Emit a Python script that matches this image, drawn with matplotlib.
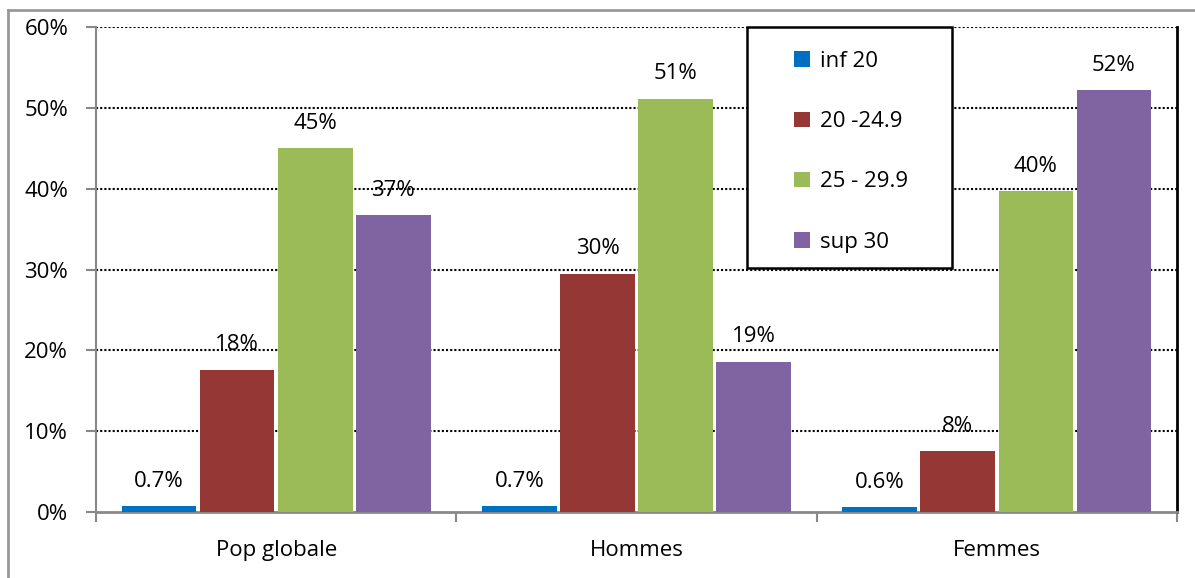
import numpy as np
import matplotlib.pyplot as plt
from matplotlib.lines import Line2D
from matplotlib.patches import Rectangle

plt.rcParams['font.family'] = ['Open Sans', 'DejaVu Sans']

groups = ['Pop globale', 'Hommes', 'Femmes']
series = ['inf 20', '20 -24.9', '25 - 29.9', 'sup 30']
values = {
    'inf 20':    [0.7, 0.7, 0.6],
    '20 -24.9':  [17.6, 29.5, 7.5],
    '25 - 29.9': [45.0, 51.1, 39.7],
    'sup 30':    [36.7, 18.6, 52.2],
}
labels = {
    'inf 20':    ['0.7%', '0.7%', '0.6%'],
    '20 -24.9':  ['18%', '30%', '8%'],
    '25 - 29.9': ['45%', '51%', '40%'],
    'sup 30':    ['37%', '19%', '52%'],
}
colors = ['#0070C0', '#953735', '#9BBB59', '#8064A2']
yticks = [0, 10, 20, 30, 40, 50, 60]
fs = 16

fig = plt.figure(figsize=(11.95, 5.78), dpi=100)
ax = fig.add_axes([96 / 1195, 66 / 578, 1081 / 1195, 485 / 578])

x = np.arange(len(groups))
step = 0.2167
width = 0.207
for i, name in enumerate(series):
    pos = x + (i - 1.5) * step
    bars = ax.bar(pos, values[name], width, color=colors[i], label=name, zorder=3)
    for b, txt in zip(bars, labels[name]):
        ax.annotate(txt, (b.get_x() + b.get_width() / 2, b.get_height()),
                    xytext=(0, 14), textcoords='offset points',
                    ha='center', va='baseline', fontsize=fs, zorder=4)

ax.set_xlim(-0.5, 2.5)
ax.set_ylim(0, 60)
ax.set_yticks(yticks)
ax.set_yticklabels([f'{t}%' for t in yticks], fontsize=fs)
ax.set_xticks([-0.5, 0.5, 1.5, 2.5])
ax.set_xticklabels([])
ax.set_xticks(x, minor=True)
ax.set_xticklabels(groups, minor=True, fontsize=fs)
ax.tick_params(axis='x', which='minor', length=0, pad=20)
ax.tick_params(axis='x', which='major', length=7, color='#888888', width=1.5)
ax.tick_params(axis='y', length=7, color='#888888', width=1.5, pad=13)

for t in yticks[1:]:
    ax.axhline(t, color='black', lw=1.5, ls=(0, (1, 1)), zorder=1)

ax.spines['top'].set_visible(False)
ax.spines['left'].set_color('#888888')
ax.spines['left'].set_linewidth(1.5)
ax.spines['bottom'].set_color('#888888')
ax.spines['bottom'].set_linewidth(2)
ax.spines['right'].set_color('black')
ax.spines['right'].set_linewidth(2)

# legend box drawn separately so its padding can be wider than tall
box = Rectangle((0.6022, 0.503), 0.1896, 0.497, transform=ax.transAxes,
                facecolor='white', edgecolor='black', lw=1.8, zorder=5, clip_on=False)
ax.add_patch(box)
leg = ax.legend(loc='upper left', bbox_to_anchor=(0.6457, 0.951), fontsize=fs,
                frameon=False, handlelength=0.7, handleheight=0.7, handletextpad=0.45,
                labelspacing=1.77, borderpad=0, borderaxespad=0)
leg.set_zorder(6)

# outer chart frame
fig.add_artist(Line2D([8 / 1195, 8 / 1195], [0, 1 - 10 / 578], color='#999999', lw=2))
fig.add_artist(Line2D([8 / 1195, 1], [1 - 10 / 578, 1 - 10 / 578], color='#999999', lw=2))

fig.savefig('out.png', dpi=100)
